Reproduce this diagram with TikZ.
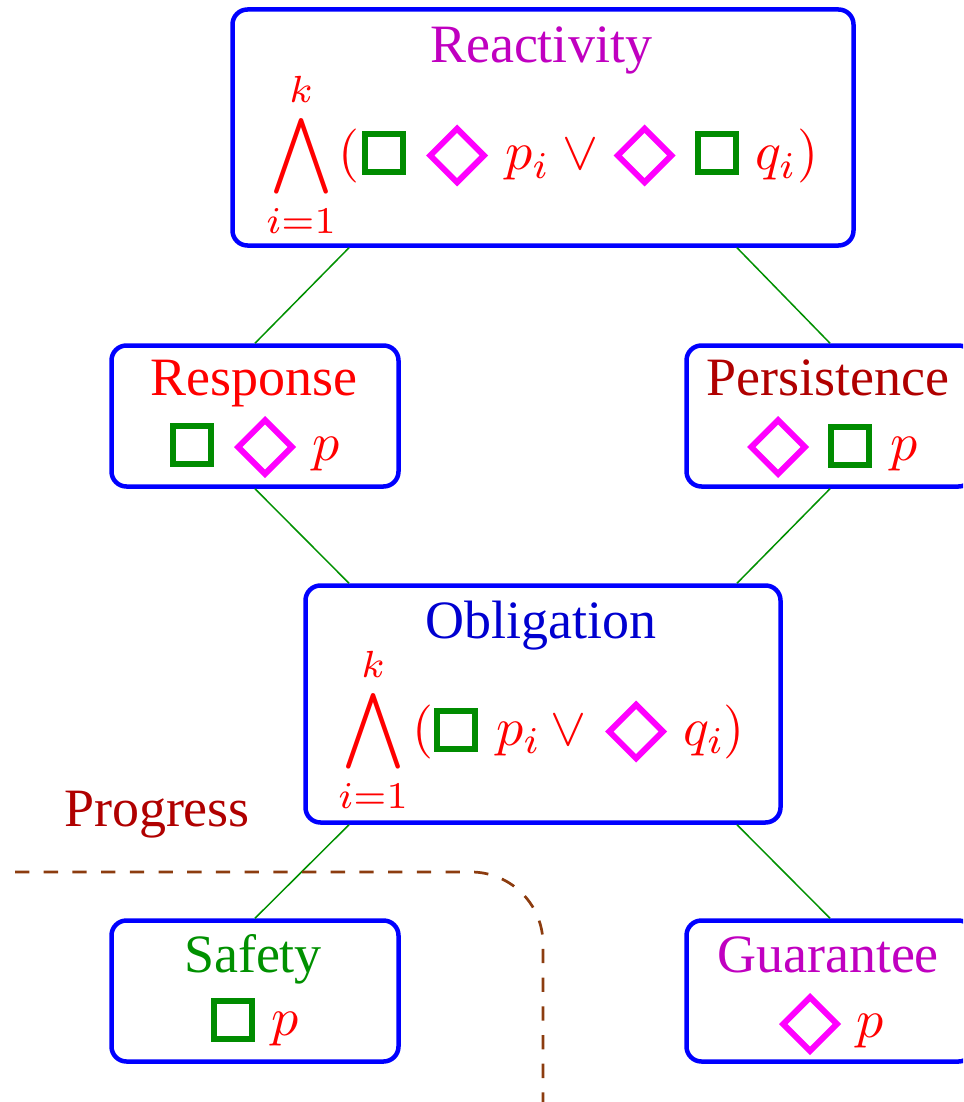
\documentclass[tikz,border=0pt]{standalone}
\usepackage{fontspec}
\setmainfont{Liberation Serif}
\usetikzlibrary{shapes.geometric}

\definecolor{frameblue}{RGB}{0,0,255}
\definecolor{linkgreen}{RGB}{0,144,0}
\definecolor{opgreen}{RGB}{0,140,0}
\definecolor{opmagenta}{RGB}{255,0,255}
\definecolor{titlemagenta}{RGB}{192,0,192}
\definecolor{titleblue}{RGB}{0,0,208}
\definecolor{darkred}{RGB}{176,0,0}
\definecolor{regionbrown}{RGB}{140,60,15}

\begin{document}
\begin{tikzpicture}[x=1pt,y=-1pt,
  frame/.style={draw=frameblue, line width=4.5pt, rounded corners=15pt, inner sep=0pt},
  smallframe/.style={frame, minimum width=287pt, minimum height=141pt},
  link/.style={draw=linkgreen, line width=1.5pt},
  title/.style={scale=5.4, inner sep=0pt, anchor=base},
  mth/.style={scale=5.4, inner sep=0pt, anchor=base west, text=red},
  bigop/.style={scale=5.4, inner sep=0pt, anchor=base, text=red},
  alw/.style={rectangle, draw=opgreen, line width=6pt, minimum size=38pt, inner sep=0pt},
  evt/.style={diamond, aspect=1, draw=opmagenta, line width=6pt, minimum width=56pt, minimum height=56pt, inner sep=0pt},
  region/.style={draw=regionbrown, line width=2.7pt, dash pattern=on 14.3pt off 14.4pt, rounded corners=72pt}]

\useasboundingbox (0,0) rectangle (963,1102);
\clip (0,0) rectangle (963,1102);

% ---- frames ----
\node[frame, minimum width=621pt, minimum height=236pt] (react) at (543,127.5) {};
\node[smallframe] (resp) at (255,416) {};
\node[smallframe] (pers) at (830,416) {};
\node[frame, minimum width=475pt, minimum height=237pt] (oblig) at (543,704) {};
\node[smallframe] (safe) at (255,991) {};
\node[smallframe] (guar) at (830,991) {};

% ---- hierarchy links ----
\draw[link] ([xshift=-194pt]react.south) -- (resp.north);
\draw[link] ([xshift=194pt]react.south) -- (pers.north);
\draw[link] (resp.south) -- ([xshift=-194pt]oblig.north);
\draw[link] (pers.south) -- ([xshift=194pt]oblig.north);
\draw[link] ([xshift=-194pt]oblig.south) -- (safe.north);
\draw[link] ([xshift=194pt]oblig.south) -- (guar.north);

% ---- progress region boundary ----
\coordinate (regstart) at (15,872);
\coordinate (regcorner) at (543,872);
\coordinate (regend) at (543,1110);
\draw[region] (regstart) -- (regcorner) -- (regend);
\node[title, text=darkred] (progress) at (157,826) {Progress};

% ---- Reactivity ----
\node[title, text=titlemagenta] (reacttitle) at (541,63) {Reactivity};
\node[bigop] (rwedge) at (301,170) {$\displaystyle\bigwedge_{i=1}^{k}$};
\node[mth] (ropen) at (337,170) {$($};
\node[alw] (ralw1) at (384,153.5) {};
\node[evt] (revt1) at (457,155.5) {};
\node[mth] (rp) at (504,170) {$p_i$};
\node[mth] (ror) at (561,170) {$\vee$};
\node[evt] (revt2) at (644.5,155.5) {};
\node[alw] (ralw2) at (717,153.5) {};
\node[mth] (rq) at (754,170) {$q_i$};
\node[mth] (rclose) at (796,170) {$)$};

% ---- Response ----
\node[title, text=red] (resptitle) at (254,395) {Response};
\node[alw] (spalw) at (192,445) {};
\node[evt] (spevt) at (265,447) {};
\node[mth] (spp) at (311,460) {$p$};

% ---- Persistence ----
\node[title, text=darkred] (perstitle) at (828,395) {Persistence};
\node[evt] (peevt) at (778,447) {};
\node[alw] (pealw) at (850,445.5) {};
\node[mth] (pep) at (889,460) {$p$};

% ---- Obligation ----
\node[title, text=titleblue] (obligtitle) at (541,638) {Obligation};
\node[bigop] (owedge) at (373,745) {$\displaystyle\bigwedge_{i=1}^{k}$};
\node[mth] (oopen) at (411,745) {$($};
\node[alw] (oalw) at (455.5,729.5) {};
\node[mth] (op) at (495,745) {$p_i$};
\node[mth] (oor) at (549,745) {$\vee$};
\node[evt] (oevt) at (636,731.5) {};
\node[mth] (oq) at (682,745) {$q_i$};
\node[mth] (oclose) at (722,745) {$)$};

% ---- Safety ----
\node[title, text=linkgreen] (safetitle) at (253,972) {Safety};
\node[alw] (saalw) at (233,1020) {};
\node[mth] (sap) at (270,1035) {$p$};

% ---- Guarantee ----
\node[title, text=titlemagenta] (guartitle) at (828,972) {Guarantee};
\node[evt] (guevt) at (810,1024) {};
\node[mth] (gup) at (855,1037) {$p$};

\end{tikzpicture}
\end{document}
